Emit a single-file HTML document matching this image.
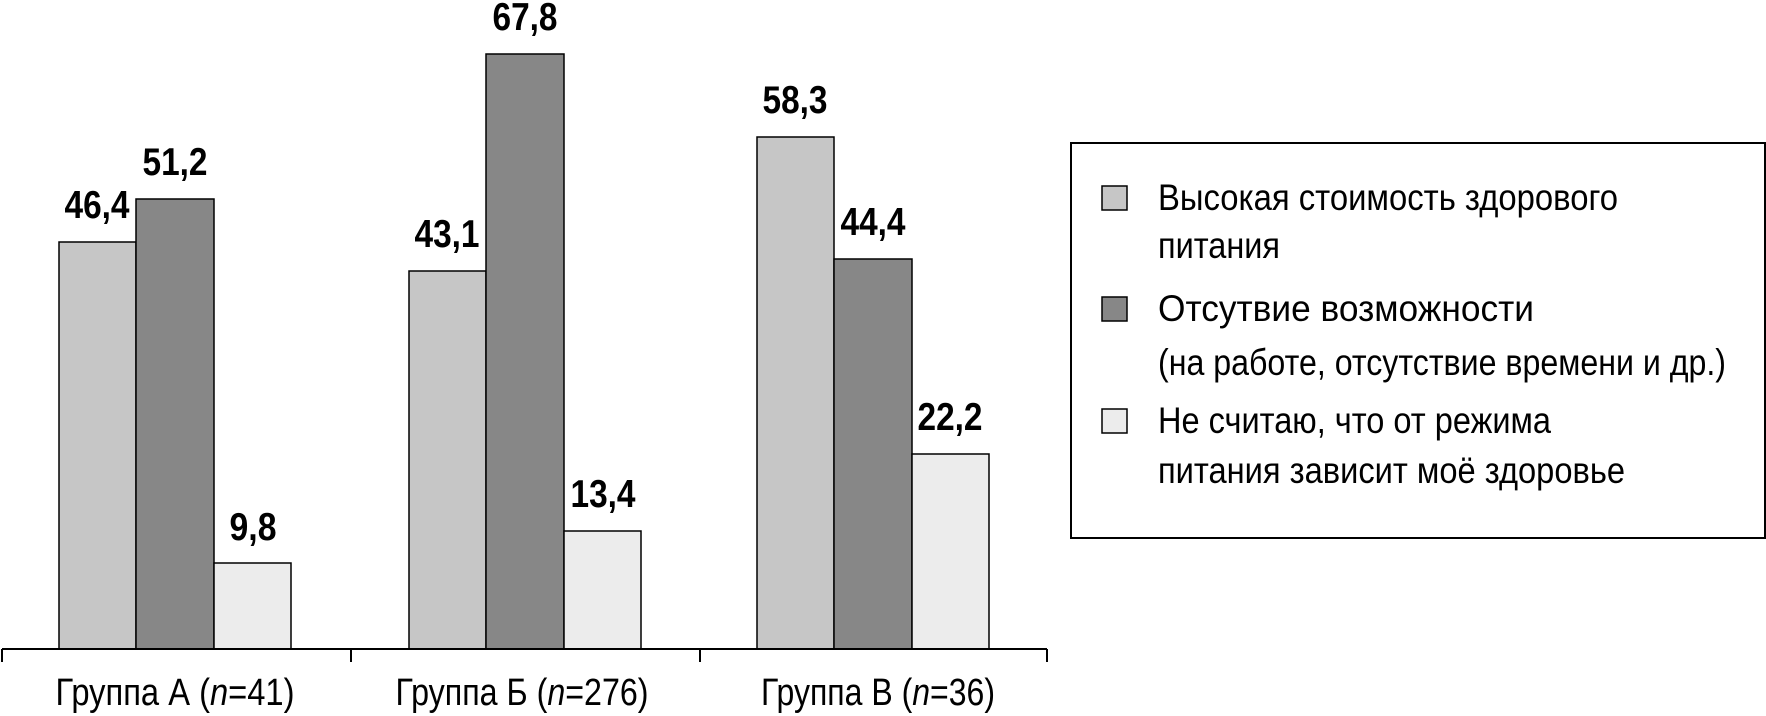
<!DOCTYPE html>
<html><head><meta charset="utf-8"><style>
html,body{margin:0;padding:0;background:#fff;}
svg{display:block;}
text{font-family:"Liberation Sans Narrow","Liberation Sans",sans-serif;fill:#000;}
.v{font-weight:bold;font-size:39px;text-anchor:middle;}
.g{font-size:38px;text-anchor:middle;}
.l{font-size:37px;}
</style></head><body>
<svg width="1766" height="716" viewBox="0 0 1766 716" xmlns="http://www.w3.org/2000/svg">
<g stroke="#000" stroke-width="1.5">
<rect x="59" y="242" width="77" height="407" fill="#c6c6c6"/>
<rect x="136" y="199" width="78" height="450" fill="#878787"/>
<rect x="214" y="563" width="77" height="86" fill="#ececec"/>
<rect x="409" y="271" width="77" height="378" fill="#c6c6c6"/>
<rect x="486" y="54" width="78" height="595" fill="#878787"/>
<rect x="564" y="531" width="77" height="118" fill="#ececec"/>
<rect x="757" y="137" width="77" height="512" fill="#c6c6c6"/>
<rect x="834" y="259" width="78" height="390" fill="#878787"/>
<rect x="912" y="454" width="77" height="195" fill="#ececec"/>
<line x1="2" y1="649" x2="1047" y2="649" stroke-width="2"/>
<line x1="2" y1="649" x2="2" y2="662" stroke-width="2"/>
<line x1="351" y1="649" x2="351" y2="662" stroke-width="2"/>
<line x1="700" y1="649" x2="700" y2="662" stroke-width="2"/>
<line x1="1047" y1="649" x2="1047" y2="662" stroke-width="2"/>
<rect x="1071" y="143" width="694" height="395" fill="#fff" stroke-width="2"/>
<rect x="1102" y="186" width="25" height="24" fill="#c6c6c6"/>
<rect x="1102" y="297" width="25" height="24" fill="#878787"/>
<rect x="1102" y="409" width="25" height="24" fill="#ececec"/>
</g>
<g class="v">
<text x="97" y="218" textLength="65" lengthAdjust="spacingAndGlyphs">46,4</text>
<text x="175" y="175" textLength="65" lengthAdjust="spacingAndGlyphs">51,2</text>
<text x="253" y="540" textLength="47" lengthAdjust="spacingAndGlyphs">9,8</text>
<text x="447" y="247" textLength="65" lengthAdjust="spacingAndGlyphs">43,1</text>
<text x="525" y="30" textLength="65" lengthAdjust="spacingAndGlyphs">67,8</text>
<text x="603" y="507" textLength="65" lengthAdjust="spacingAndGlyphs">13,4</text>
<text x="795" y="113" textLength="65" lengthAdjust="spacingAndGlyphs">58,3</text>
<text x="873" y="235" textLength="65" lengthAdjust="spacingAndGlyphs">44,4</text>
<text x="950" y="430" textLength="65" lengthAdjust="spacingAndGlyphs">22,2</text>
</g>
<g class="g">
<text x="175" y="705" textLength="239" lengthAdjust="spacingAndGlyphs">Группа А (<tspan font-style="italic">n</tspan>=41)</text>
<text x="522" y="705" textLength="253" lengthAdjust="spacingAndGlyphs">Группа Б (<tspan font-style="italic">n</tspan>=276)</text>
<text x="878" y="705" textLength="234" lengthAdjust="spacingAndGlyphs">Группа В (<tspan font-style="italic">n</tspan>=36)</text>
</g>
<g class="l">
<text x="1158" y="210" textLength="460" lengthAdjust="spacingAndGlyphs">Высокая стоимость здорового</text>
<text x="1158" y="258" textLength="122" lengthAdjust="spacingAndGlyphs">питания</text>
<text x="1158" y="321" textLength="376" lengthAdjust="spacingAndGlyphs">Отсутвие возможности</text>
<text x="1158" y="375" textLength="568" lengthAdjust="spacingAndGlyphs">(на работе, отсутствие времени и др.)</text>
<text x="1158" y="433" textLength="393" lengthAdjust="spacingAndGlyphs">Не считаю, что от режима</text>
<text x="1158" y="483" textLength="467" lengthAdjust="spacingAndGlyphs">питания зависит моё здоровье</text>
</g>
</svg>
</body></html>
